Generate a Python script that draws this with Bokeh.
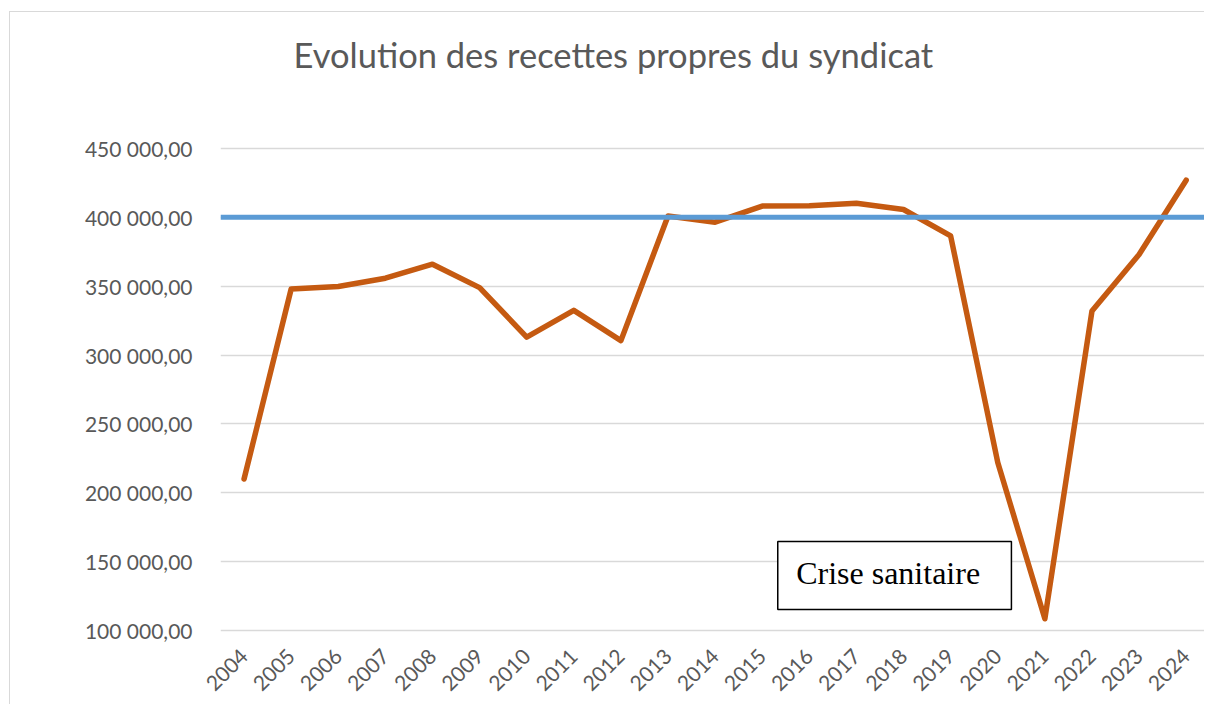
import math
from bokeh.plotting import figure
from bokeh.models import Range1d, FixedTicker, BoxAnnotation, Label, Span
from bokeh.embed import file_html
from bokeh.resources import INLINE

# ---- data ----
years = ["2004", "2005", "2006", "2007", "2008", "2009", "2010", "2011", "2012", "2013",
         "2014", "2015", "2016", "2017", "2018", "2019", "2020", "2021", "2022", "2023", "2024"]
recettes = [210000, 348000, 349800, 355800, 366000, 349000, 313000, 332500, 310500, 401000,
            396500, 408200, 408500, 410300, 405700, 386500, 222000, 108500, 332000, 373000, 427000]
seuil = 400000
y_ticks = [100000, 150000, 200000, 250000, 300000, 350000, 400000, 450000]
y_tick_labels = ["100 000,00", "150 000,00", "200 000,00", "250 000,00",
                 "300 000,00", "350 000,00", "400 000,00", "450 000,00"]
title_text = "Evolution des recettes propres du syndicat"
annotation_text = "Crise sanitaire"

x_pos = list(range(len(years)))

p = figure(width=1195, height=693, output_backend="svg", toolbar_location=None,
           x_range=Range1d(-0.5, 20.41), y_range=Range1d(98548, 451452),
           min_border_left=210, min_border_right=0, min_border_top=134, min_border_bottom=73)
p.styles = {"border-left": "1px solid #d9d9d9", "border-top": "1px solid #d9d9d9",
            "margin-left": "9px", "margin-top": "11px"}
p.outline_line_color = None
p.background_fill_color = "white"
p.border_fill_color = "white"

# title
p.title.text = title_text
p.title.text_font = "Lato"
p.title.text_font_size = "34.5px"
p.title.text_font_style = "normal"
p.title.text_color = "#595959"
p.title.align = "left"
p.title.vertical_align = "top"
p.title.offset = 73
p.title.standoff = 10
p.title.padding = dict(top=0, right=0, bottom=65, left=0)

# grid
p.xgrid.grid_line_color = None
p.ygrid.ticker = FixedTicker(ticks=y_ticks)
p.ygrid.grid_line_color = "#d9d9d9"
p.ygrid.grid_line_width = 1.5

# y axis
p.yaxis.ticker = FixedTicker(ticks=y_ticks)
p.yaxis.major_label_overrides = {t: l for t, l in zip(y_ticks, y_tick_labels)}
p.yaxis.axis_line_color = None
p.yaxis.major_tick_line_color = None
p.yaxis.minor_tick_line_color = None
p.yaxis.major_label_text_font = "Lato"
p.yaxis.major_label_text_font_size = "21px"
p.yaxis.major_label_text_color = "#595959"
p.yaxis.major_label_standoff = 22

# x axis
p.xaxis.ticker = FixedTicker(ticks=x_pos)
p.xaxis.major_label_overrides = {i: y for i, y in zip(x_pos, years)}
p.xaxis.axis_line_color = None
p.xaxis.major_tick_line_color = None
p.xaxis.minor_tick_line_color = None
p.xaxis.major_label_orientation = math.pi / 4
p.xaxis.major_label_text_font = "Lato"
p.xaxis.major_label_text_font_size = "21px"
p.xaxis.major_label_text_color = "#595959"
p.xaxis.major_label_standoff = 14

# series
p.line(x_pos, recettes, line_color="#C55A11", line_width=5.5,
       line_join="round", line_cap="round")

p.add_layout(Span(location=seuil, dimension="width", line_color="#5B9BD5", line_width=5))

# annotation box
p.add_layout(BoxAnnotation(left=11.33, right=16.29, top=164640, bottom=115270,
                           fill_color="white", fill_alpha=1.0,
                           line_color="black", line_alpha=1.0, line_width=1.5))
p.add_layout(Label(x=11.72, y=141400, text=annotation_text,
                   text_font="Liberation Serif", text_font_size="32px",
                   text_color="black", text_baseline="alphabetic"))

open("out.html", "w").write(file_html(p, INLINE))
